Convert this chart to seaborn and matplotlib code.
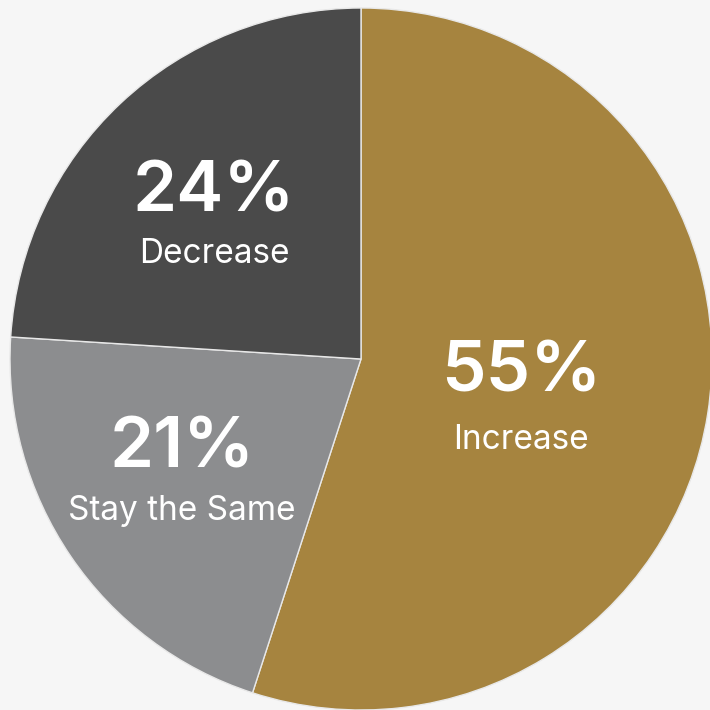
import matplotlib
matplotlib.use("Agg")
import matplotlib.pyplot as plt
import seaborn as sns

# Share of respondents expecting each outcome
categories = ["Increase", "Stay the Same", "Decrease"]
shares = [55, 21, 24]
colors = ["#a6843f", "#8c8d8f", "#4a4a4a"]

# Label anchor positions (percent line, name line) in pixel space of the 710px canvas
label_px = {
    "Increase": (521, 373, 440),
    "Stay the Same": (182, 449, 511),
    "Decrease": (214, 193, 254),
}

sns.set_theme(style="white")
plt.rcParams["font.family"] = ["Inter", "DejaVu Sans"]

bg = "#f6f6f6"
fig = plt.figure(figsize=(7.1, 7.1), dpi=100, facecolor=bg)
ax = fig.add_axes([0, 0, 1, 1])
ax.set_facecolor(bg)

cx, cy, r = 361, 359, 351  # pie centre and radius in pixels

ax.pie(
    shares,
    colors=colors,
    startangle=90,
    counterclock=False,
    radius=1,
    wedgeprops=dict(edgecolor="#e8e8e8", linewidth=1.0),
)
ax.set_xlim(-cx / r, (710 - cx) / r)
ax.set_ylim(-(710 - cy) / r, cy / r)
ax.set_aspect("auto")
ax.axis("off")


def to_data(px, py):
    return (px - cx) / r, (cy - py) / r


for name, share in zip(categories, shares):
    px, py_pct, py_name = label_px[name]
    x, y = to_data(px, py_pct)
    ax.text(x, y, f"{share}%", color="white", fontsize=51, fontweight="semibold",
            ha="center", va="center")
    x, y = to_data(px, py_name)
    ax.text(x, y, name, color="white", fontsize=24, fontweight="normal",
            ha="center", va="center")

fig.savefig("out.png", dpi=100, facecolor=bg)
